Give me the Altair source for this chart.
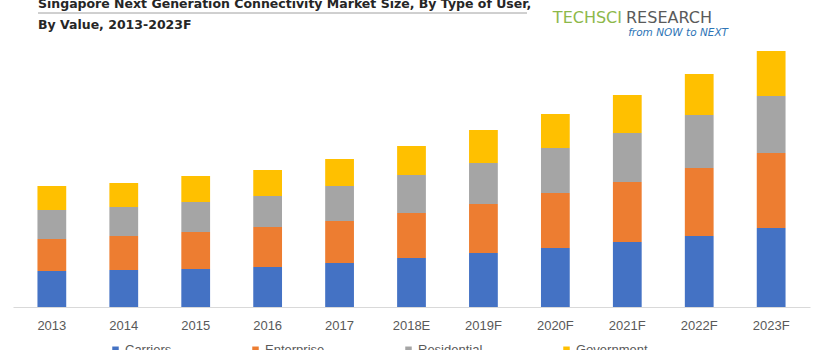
import altair as alt
import pandas as pd

years = ["2013", "2014", "2015", "2016", "2017", "2018E", "2019F", "2020F", "2021F", "2022F", "2023F"]
segments = ["Carriers", "Enterprise", "Residential", "Government"]
carriers = [36, 37, 38, 40, 44, 49, 54, 59, 65, 71, 79]
enterprise = [32, 34, 37, 40, 42, 45, 49, 55, 60, 68, 75]
residential = [29, 29, 30, 31, 35, 38, 41, 45, 49, 53, 57]
government = [24, 24, 26, 26, 27, 29, 33, 34, 38, 41, 45]
colors = ["#4472C4", "#ED7D31", "#A5A5A5", "#FFC000"]

title_line1 = "Singapore Next Generation Connectivity Market Size, By Type of User,"
title_line2 = "By Value, 2013-2023F"

series = {"Carriers": carriers, "Enterprise": enterprise,
          "Residential": residential, "Government": government}
rows = []
for si, seg in enumerate(segments):
    for yi, yr in enumerate(years):
        rows.append({"Year": yr, "Segment": seg, "Value": series[seg][yi], "idx": si})
df = pd.DataFrame(rows)

bars = alt.Chart(df).mark_bar().encode(
    x=alt.X("Year:N", sort=years,
            scale=alt.Scale(paddingInner=0.6, paddingOuter=0.34),
            axis=alt.Axis(title=None, labelAngle=0, ticks=False, labelPadding=12,
                          labelFont="Liberation Sans", labelFontSize=13,
                          labelColor="#595959", domainColor="#D9D9D9",
                          domainWidth=1, grid=False)),
    y=alt.Y("Value:Q", stack="zero", scale=alt.Scale(domain=[0, 260], nice=False),
            axis=None),
    color=alt.Color("Segment:N",
                    scale=alt.Scale(domain=segments, range=colors),
                    legend=alt.Legend(title=None, orient="none", direction="horizontal",
                                      legendX=96, legendY=296, symbolType="square",
                                      symbolSize=42, symbolStrokeWidth=0,
                                      labelFont="Liberation Sans", labelFontSize=13,
                                      labelColor="#595959", labelOffset=3,
                                      columnPadding=77, padding=0)),
    order=alt.Order("idx:Q", sort="ascending"),
)

def text_layer(txt, x, y, **kw):
    return alt.Chart(pd.DataFrame({"t": [txt]})).mark_text(**kw).encode(
        x=alt.value(x), y=alt.value(y), text="t:N")

t1 = text_layer(title_line1, 25, -39, align="left", baseline="alphabetic",
                font="DejaVu Sans", fontWeight="bold", fontSize=12.5, color="#262626")
t2 = text_layer(title_line2, 25, -18, align="left", baseline="alphabetic",
                font="DejaVu Sans", fontWeight="bold", fontSize=12.5, color="#262626")
underline = alt.Chart(pd.DataFrame({"a": [0]})).mark_rule(color="#A0A0A0", strokeWidth=1).encode(
    x=alt.value(25), x2=alt.value(514), y=alt.value(-34))
logo1 = text_layer("TECHSCI", 609, -24, align="right", baseline="alphabetic",
                   font="DejaVu Sans", fontSize=16, color="#8DB84A")
logo2 = text_layer("RESEARCH", 613, -24, align="left", baseline="alphabetic",
                   font="DejaVu Sans", fontSize=16, color="#5A5A5A")
logo3 = text_layer("from NOW to NEXT", 715, -11, align="right", baseline="alphabetic",
                   font="DejaVu Sans", fontStyle="italic", fontSize=10.5, color="#2E75B6")

chart = alt.layer(bars, underline, t1, t2, logo1, logo2, logo3).properties(
    width=797, height=260,
    background="white",
    autosize=alt.AutoSizeParams(type="none"),
    padding={"left": 13, "top": 47, "right": 10, "bottom": 43},
).configure_view(strokeWidth=0, stroke="transparent")

chart.save("out.html", embed_options={"renderer": "svg", "actions": False})
